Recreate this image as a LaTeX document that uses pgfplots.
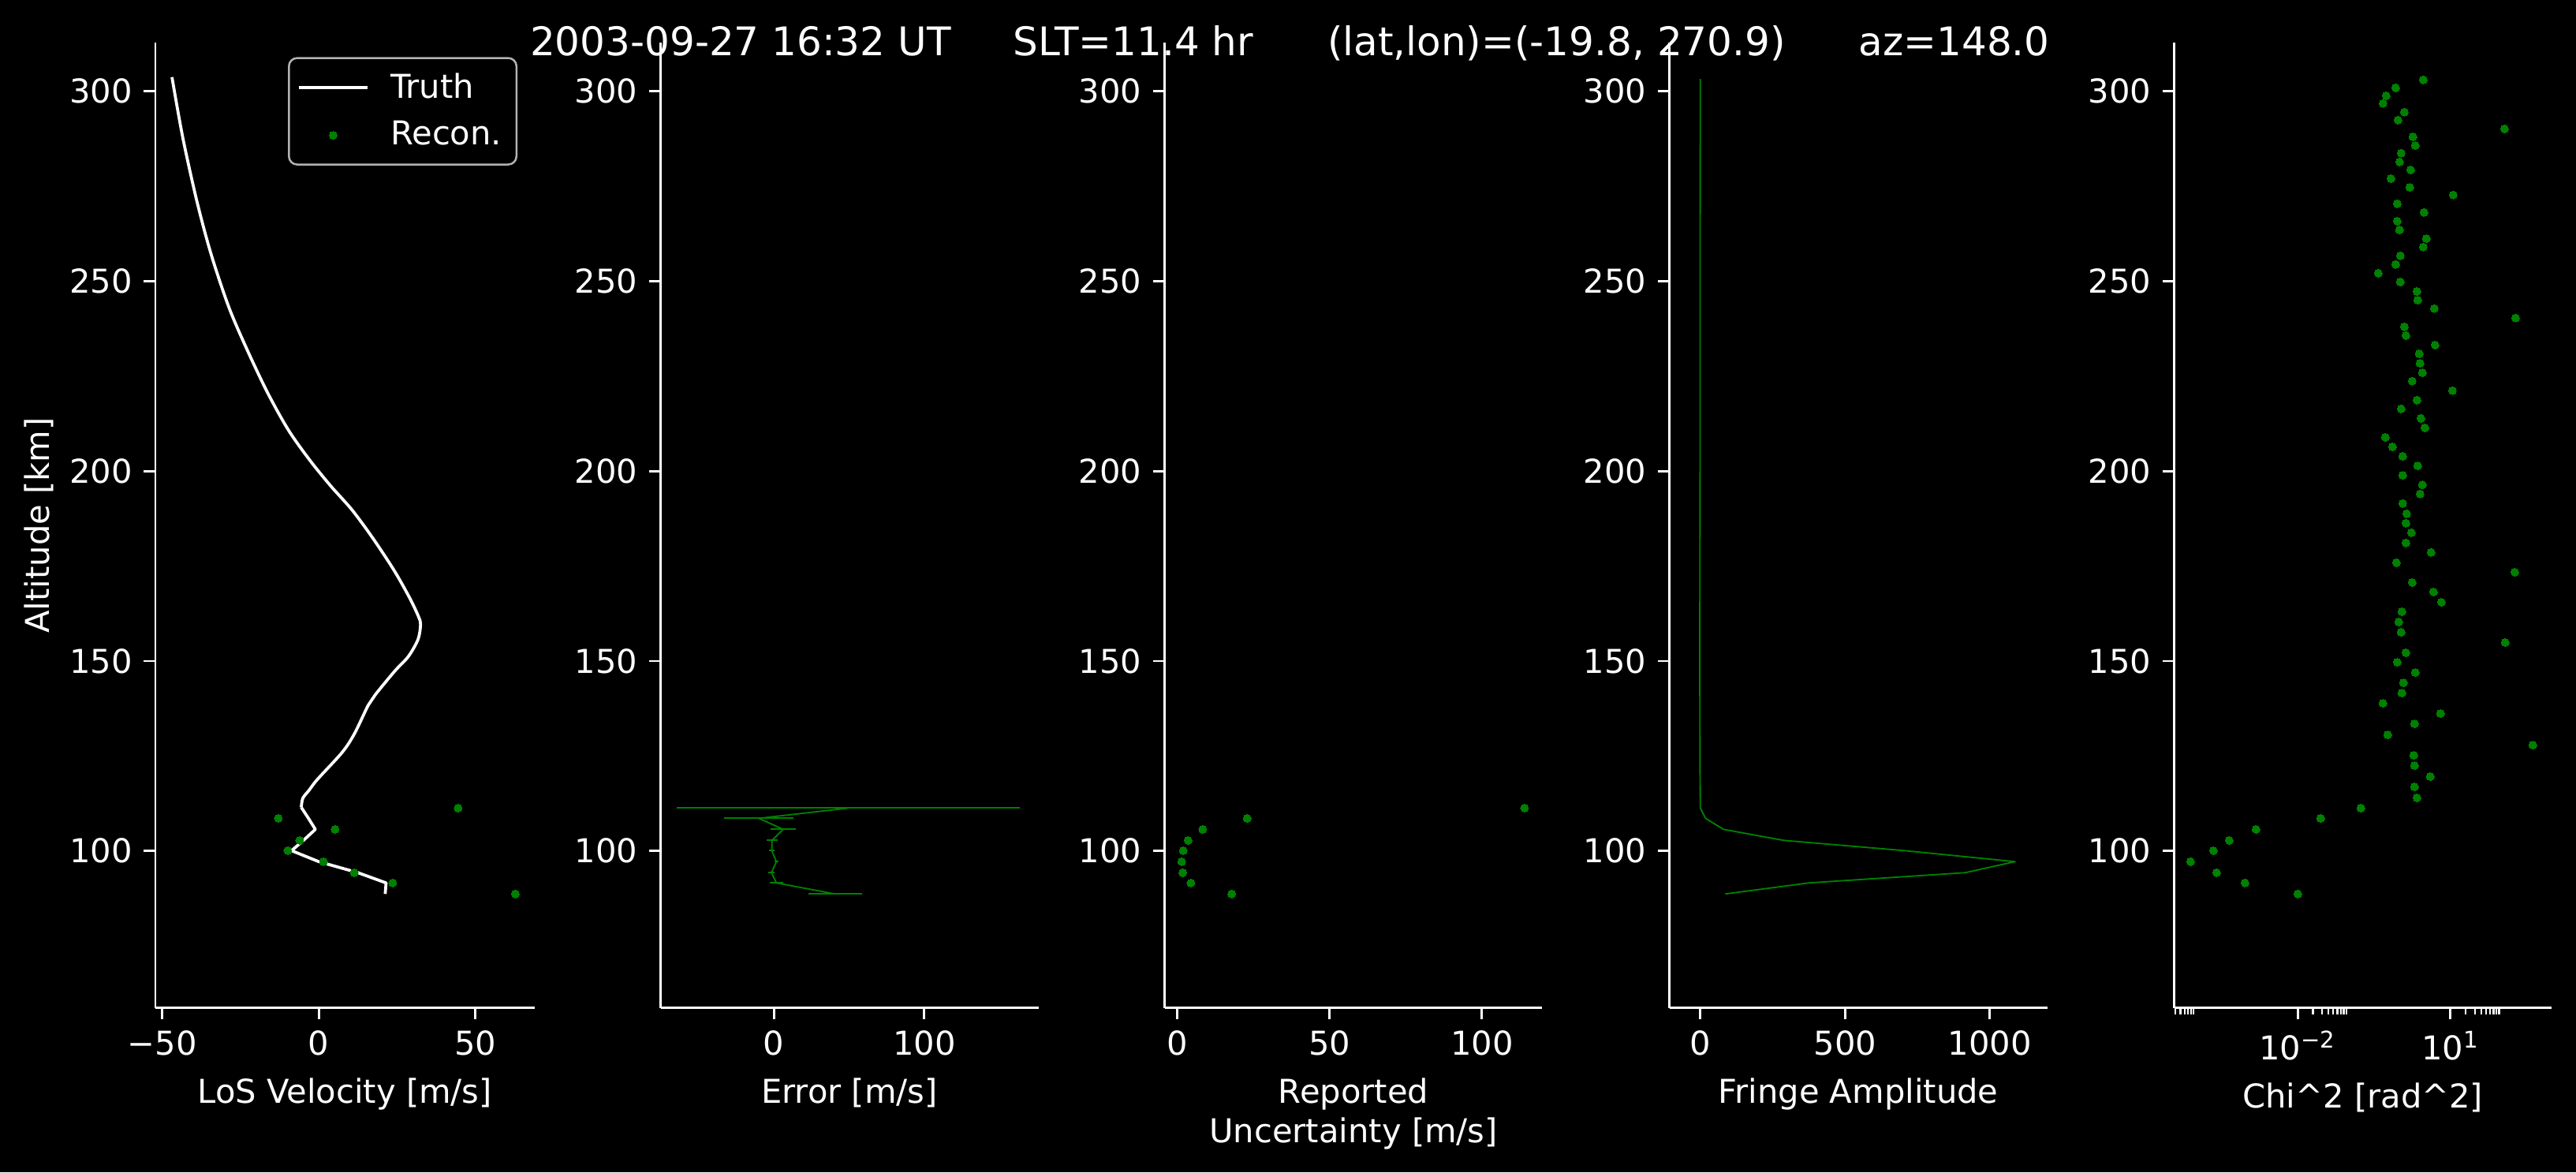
\documentclass[border=0pt]{standalone}
\usepackage{fontspec}
\setmainfont{DejaVu Sans}
\usepackage{pgfplots}
\pgfplotsset{compat=1.18}
\definecolor{mplgreen}{RGB}{0,128,0}
\definecolor{legframe}{RGB}{178,178,178}
\pgfplotsset{
  panel/.style={
    scale only axis, height=293.69pt, anchor=south west,
    axis x line*=bottom, axis y line*=left,
    axis line style={white, line width=0.7pt},
    tick style={white, line width=0.7pt},
    minor tick style={white, line width=0.55pt},
    tick align=outside,
    major tick length=3.5pt, minor tick length=2pt,
    ymin=58.7, ymax=312.8,
    ytick={100,150,200,250,300},
    yticklabels={100,150,200,250,300},
    ticklabel style={text=white, font=\fontsize{10}{12}\selectfont},
    label style={text=white, font=\fontsize{10}{12}\selectfont},
  },
  dots/.style={only marks, mark=*, mark size=1.2pt,
    mark options={fill=mplgreen, draw=mplgreen, line width=0pt}},
  thin green/.style={mplgreen, line width=0.45pt, line join=round},
}
\begin{document}
\begin{tikzpicture}
\fill[black] (0,0) rectangle (783.84pt,356.64pt);
\useasboundingbox (0,0) rectangle (783.84pt,356.64pt);

% Panel 1: LoS velocity
\begin{axis}[panel, at={(47.28pt,49.99pt)}, width=115.37pt,
  xmin=-52.2, xmax=68.9, xtick={-50,0,50}, xticklabels={−50,0,50},
  xlabel={LoS Velocity [m/s]}, ylabel={Altitude [km]}, ylabel shift=-2pt,
  legend style={at={(0.955,0.985)}, anchor=north east, fill=black,
    draw=legframe, line width=0.6pt, rounded corners=2.5pt, text=white,
    font=\fontsize{10}{12}\selectfont, row sep=1.5pt, inner sep=2.5pt,
    /tikz/every odd column/.append style={column sep=4.5pt}},
  legend cell align=left,
  legend image code/.code={\draw[mark repeat=2,mark phase=2,#1] plot coordinates {(0cm,0cm) (0.37cm,0cm) (0.74cm,0cm)};},
]
\addplot[white, line width=0.9pt, line join=round] coordinates {
(21.2,88.7) (21.5,91.6) (12.5,94.3) (0.0,97.2) (-8.7,100.1) (-4.9,102.8)
(-1.1,105.7) (-3.3,108.6) (-5.6,111.5)};
\addlegendentry{Truth}
\addplot[dots] coordinates {
(62.8,88.7) (23.6,91.6) (11.3,94.3) (1.5,97.2) (-9.9,100.1) (-6.1,102.8)
(5.2,105.7) (-12.9,108.6) (44.5,111.3)};
\addlegendentry{Recon.}
\addplot[white, line width=0.9pt, line join=round, smooth, tension=0.5, forget plot] coordinates {
(-5.6,111.5) (-5.1,113.9) (-3.1,116.0) (-0.5,118.8)
(7.5,126.0) (11.4,130.9) (15.8,138.4) (18.1,141.2) (24.3,147.4) (28.6,151.2)
(31.7,155.7) (32.5,159.6) (31.9,161.6) (29.1,166.5) (24.1,173.8) (17.3,182.3)
(10.6,189.8) (3.8,196.1) (-2.9,202.9) (-9.7,210.8) (-16.4,220.7) (-23.2,232.5)
(-28.8,243.3) (-34.4,257.1) (-38.9,270.9) (-43.4,287.6) (-46.9,303.7)};
\end{axis}

% Panel 2: Error
\begin{axis}[panel, at={(201.0pt,49.99pt)}, width=114.96pt,
  xmin=-75.3, xmax=175.8, xtick={0,100}, xticklabels={0,100},
  xlabel={Error [m/s]}]
\addplot[thin green, error bars/.cd, x dir=both, x explicit,
  error bar style={mplgreen, line width=0.45pt}, error mark=none]
coordinates {
(40.7,88.7) +- (17.9,0)
(1.7,91.6) +- (4.5,0)
(-1.6,94.3) +- (1.9,0)
(1.7,97.2) +- (1.5,0)
(-1.4,100.1) +- (2.0,0)
(-1.2,102.8) +- (3.6,0)
(6.2,105.7) +- (8.4,0)
(-10.0,108.6) +- (23.0,0)
(49.5,111.3) +- (114.0,0)};
\end{axis}

% Panel 3: Reported uncertainty
\begin{axis}[panel, at={(354.43pt,49.99pt)}, width=114.86pt,
  xmin=-4.04, xmax=119.8, xtick={0,50,100}, xticklabels={0,50,100},
  xlabel={Reported\\Uncertainty [m/s]}, xlabel style={align=center}]
\addplot[dots] coordinates {
(17.9,88.7) (4.5,91.6) (1.85,94.3) (1.5,97.2) (2.0,100.1) (3.6,102.8)
(8.4,105.7) (23.0,108.6) (114.0,111.3)};
\end{axis}

% Panel 4: Fringe amplitude
\begin{axis}[panel, at={(507.96pt,49.99pt)}, width=114.96pt,
  xmin=-107, xmax=1198, xtick={0,500,1000}, xticklabels={0,500,1000},
  xlabel={Fringe Amplitude}]
\addplot[thin green] coordinates {
(86,88.7) (375,91.6) (915,94.3) (1087,97.2) (705,100.1) (288,102.8)
(80,105.7) (18,108.6) (0,111.3) (-1,120) (-2,150) (-1,200) (-1,250) (0,303.2)};
\end{axis}

% Panel 5: Chi^2
\begin{axis}[panel, at={(661.63pt,49.99pt)}, width=114.70pt,
  xmode=log, xmin=3.796e-5, xmax=957,
  xtick={0.01,10}, xticklabels={10\textsuperscript{−2},10\textsuperscript{1}},
  minor xtick={4e-5,5e-5,6e-5,7e-5,8e-5,9e-5,0.02,0.03,0.04,0.05,0.06,0.07,0.08,0.09,20,30,40,50,60,70,80,90},
  xlabel={Chi\textasciicircum 2 [rad\textasciicircum 2]}]
\addplot[dots] coordinates {
(2.924,303.0) (0.839,300.9) (0.547,298.8) (0.474,296.8) (1.242,294.5)
(0.933,292.4) (115.1,290.1) (1.837,288.0) (2.046,285.7) (1.076,283.7)
(1.002,281.4) (1.652,279.3) (0.678,277.0) (1.592,274.7) (11.32,272.7)
(0.902,270.4) (3.027,268.1) (0.902,265.8) (1.002,263.5) (3.373,261.2)
(2.924,259.0) (1.038,256.7) (0.839,254.4) (0.383,252.1) (1.038,249.8)
(2.198,247.3) (2.275,245.0) (4.808,242.8) (189.7,240.3) (1.242,238.0)
(1.334,235.7) (4.989,233.2) (2.443,230.9) (2.535,228.4) (2.818,225.9)
(1.774,223.7) (10.94,221.2) (2.198,218.7) (1.076,216.4) (2.624,213.9)
(3.141,211.4) (0.527,208.9) (0.728,206.4) (1.156,203.9) (2.275,201.4)
(1.156,198.9) (2.818,196.4) (2.535,194.0) (1.156,191.5) (1.380,188.8)
(1.334,186.3) (1.710,183.8) (1.334,181.1) (4.169,178.6) (0.869,175.9)
(182.8,173.4) (1.774,170.7) (4.645,168.2) (6.637,165.5) (1.114,163.0)
(0.966,160.3) (1.076,157.6) (119.1,154.9) (1.334,152.2) (0.902,149.7)
(2.046,147.0) (1.197,144.3) (1.114,141.6) (0.474,138.9) (6.397,136.2)
(1.972,133.5) (0.587,130.6) (415.0,127.9) (1.905,125.2) (1.972,122.5)
(4.027,119.6) (1.972,116.9) (2.198,114.0) (0.1746,111.3) (0.02831,108.6)
(0.001521,105.7) (0.0004529,102.8) (0.0002218,100.1) (7.889e-5,97.2)
(0.0002559,94.3) (0.0009226,91.6) (0.01007,88.7)};
\end{axis}

\node[anchor=base, text=white, font=\fontsize{12}{14.4}\selectfont, inner sep=0pt]
  at (392.5pt,339.6pt)
  {2003-09-27 16:32 UT\hspace{18.96pt}SLT=11.4 hr\hspace{22.56pt}(lat,lon)=(-19.8, 270.9)\hspace{22.32pt}az=148.0};
\end{tikzpicture}
\end{document}
